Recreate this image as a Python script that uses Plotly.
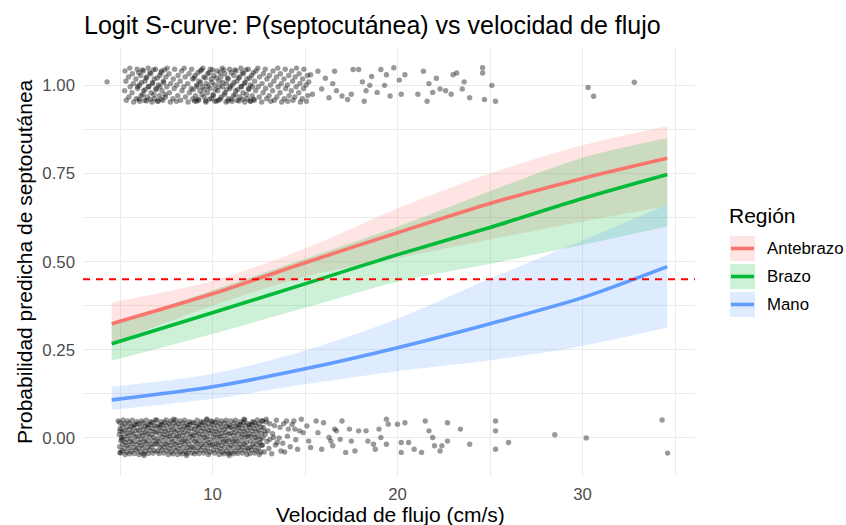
import plotly.graph_objects as go

# ---------------- data ----------------
regions = ["Antebrazo", "Brazo", "Mano"]
region_colors = ["#F8766D", "#00BA38", "#619CFF"]

vel = [4.55, 10, 15, 20, 25, 30, 34.58]

fit_antebrazo = [0.324, 0.409, 0.497, 0.582, 0.665, 0.736, 0.793]
lo_antebrazo = [0.269, 0.375, 0.457, 0.510, 0.563, 0.614, 0.658]
hi_antebrazo = [0.384, 0.445, 0.537, 0.651, 0.750, 0.830, 0.884]

fit_brazo = [0.267, 0.355, 0.437, 0.520, 0.597, 0.679, 0.747]
lo_brazo = [0.219, 0.295, 0.369, 0.443, 0.494, 0.548, 0.600]
hi_brazo = [0.321, 0.419, 0.508, 0.599, 0.700, 0.795, 0.851]

fit_mano = [0.108, 0.145, 0.196, 0.256, 0.324, 0.398, 0.486]
lo_mano = [0.080, 0.111, 0.152, 0.189, 0.220, 0.261, 0.313]
hi_mano = [0.145, 0.182, 0.247, 0.338, 0.452, 0.560, 0.662]

threshold = 0.45

x_ticks = [10, 20, 30]
x_ticktext = ["10", "20", "30"]
x_minor = [5, 15, 25, 35]
y_ticks = [0, 0.25, 0.5, 0.75, 1.0]
y_ticktext = ["0.00", "0.25", "0.50", "0.75", "1.00"]
y_minor = [0.125, 0.375, 0.625, 0.875]

# jittered observations, outcome 0 (dense part)
zero_dense_x = [
    5.03,4.98,5.05,4.96,5.01,4.99,5.11,5.16,5.09,5.14,5.12,5.17,5.28,5.23,5.30,5.21,5.26,5.24,5.36,5.41,5.34,5.39,5.37,5.42,5.53,5.48,5.55,5.46,5.51,5.49,5.61,5.66,5.59,5.64,5.62,5.67,5.78,5.73,5.80,5.71,5.76,5.74,5.86,5.91,5.84,5.89,5.87,5.92,
    6.03,5.98,6.05,5.96,6.01,5.99,6.11,6.16,6.09,6.14,6.12,6.17,6.28,6.23,6.30,6.21,6.26,6.24,6.36,6.41,6.34,6.39,6.37,6.42,6.53,6.48,6.55,6.46,6.51,6.49,6.61,6.66,6.59,6.64,6.62,6.67,6.78,6.73,6.80,6.71,6.76,6.74,6.86,6.91,6.84,6.89,6.87,6.92,
    7.03,6.98,7.05,6.96,7.01,6.99,7.11,7.16,7.09,7.14,7.12,7.17,7.28,7.23,7.30,7.21,7.26,7.24,7.36,7.41,7.34,7.39,7.37,7.42,7.53,7.48,7.55,7.46,7.51,7.49,7.61,7.66,7.59,7.64,7.62,7.67,7.78,7.73,7.80,7.71,7.76,7.74,7.86,7.91,7.84,7.89,7.87,7.92,
    8.03,7.98,8.05,7.96,8.01,7.99,8.11,8.16,8.09,8.14,8.12,8.17,8.28,8.23,8.30,8.21,8.26,8.24,8.36,8.41,8.34,8.39,8.37,8.42,8.53,8.48,8.55,8.46,8.51,8.49,8.61,8.66,8.59,8.64,8.62,8.67,8.78,8.73,8.80,8.71,8.76,8.74,8.86,8.91,8.84,8.89,8.87,8.92,
    9.03,8.98,9.05,8.96,9.01,8.99,9.11,9.16,9.09,9.14,9.12,9.17,9.28,9.23,9.30,9.21,9.26,9.24,9.36,9.41,9.34,9.39,9.37,9.42,9.53,9.48,9.55,9.46,9.51,9.49,9.61,9.66,9.59,9.64,9.62,9.67,9.78,9.73,9.80,9.71,9.76,9.74,9.86,9.91,9.84,9.89,9.87,9.92,
    10.03,9.98,10.05,9.96,10.01,9.99,10.11,10.16,10.09,10.14,10.12,10.17,10.28,10.23,10.30,10.21,10.26,10.24,10.36,10.41,10.34,10.39,10.37,10.42,10.53,10.48,10.55,10.46,10.51,10.49,10.61,10.66,10.59,10.64,10.62,10.67,10.78,10.73,10.80,10.71,10.76,10.74,10.86,10.91,10.84,10.89,10.87,10.92,
    11.03,10.98,11.05,10.96,11.01,10.99,11.11,11.16,11.09,11.14,11.12,11.17,11.28,11.23,11.30,11.21,11.26,11.24,11.36,11.41,11.34,11.39,11.37,11.42,11.53,11.48,11.55,11.46,11.51,11.49,11.61,11.66,11.59,11.64,11.62,11.67,11.78,11.73,11.80,11.71,11.76,11.74,11.86,11.91,11.84,11.89,11.87,11.92,
    12.03,11.98,12.05,11.96,12.01,11.99,12.11,12.16,12.09,12.14,12.12,12.17,12.28,12.23,12.30,12.21,12.26,12.24,12.36,12.41,12.34,12.39,12.37,12.42,12.53,12.48,12.55,12.46,12.51,12.49,12.61,12.66,12.59,12.64,12.62,12.67,
]
zero_dense_y = [
    -0.043,-0.025,-0.008,0.010,0.027,0.044, -0.036,-0.018,0.001,0.018,0.035,0.051, -0.047,-0.030,-0.013,0.005,0.022,0.040, -0.040,-0.021,-0.004,0.013,0.031,0.048, -0.045,-0.028,-0.011,0.007,0.024,0.042, -0.038,-0.016,-0.002,0.016,0.033,0.050, -0.044,-0.027,-0.009,0.011,0.029,0.037, -0.034,-0.019,0.003,0.020,0.038,0.046,
    -0.047,-0.030,-0.013,0.005,0.022,0.040, -0.040,-0.021,-0.004,0.013,0.031,0.048, -0.045,-0.028,-0.011,0.007,0.024,0.042, -0.038,-0.016,-0.002,0.016,0.033,0.050, -0.044,-0.027,-0.009,0.011,0.029,0.037, -0.034,-0.019,0.003,0.020,0.038,0.046, -0.043,-0.025,-0.008,0.010,0.027,0.044, -0.036,-0.018,0.001,0.018,0.035,0.051,
    -0.038,-0.016,-0.002,0.016,0.033,0.050, -0.044,-0.027,-0.009,0.011,0.029,0.037, -0.034,-0.019,0.003,0.020,0.038,0.046, -0.043,-0.025,-0.008,0.010,0.027,0.044, -0.036,-0.018,0.001,0.018,0.035,0.051, -0.047,-0.030,-0.013,0.005,0.022,0.040, -0.040,-0.021,-0.004,0.013,0.031,0.048, -0.045,-0.028,-0.011,0.007,0.024,0.042,
    -0.036,-0.018,0.001,0.018,0.035,0.051, -0.047,-0.030,-0.013,0.005,0.022,0.040, -0.040,-0.021,-0.004,0.013,0.031,0.048, -0.045,-0.028,-0.011,0.007,0.024,0.042, -0.038,-0.016,-0.002,0.016,0.033,0.050, -0.044,-0.027,-0.009,0.011,0.029,0.037, -0.034,-0.019,0.003,0.020,0.038,0.046, -0.043,-0.025,-0.008,0.010,0.027,0.044,
    -0.045,-0.028,-0.011,0.007,0.024,0.042, -0.038,-0.016,-0.002,0.016,0.033,0.050, -0.044,-0.027,-0.009,0.011,0.029,0.037, -0.034,-0.019,0.003,0.020,0.038,0.046, -0.043,-0.025,-0.008,0.010,0.027,0.044, -0.036,-0.018,0.001,0.018,0.035,0.051, -0.047,-0.030,-0.013,0.005,0.022,0.040, -0.040,-0.021,-0.004,0.013,0.031,0.048,
    -0.034,-0.019,0.003,0.020,0.038,0.046, -0.043,-0.025,-0.008,0.010,0.027,0.044, -0.036,-0.018,0.001,0.018,0.035,0.051, -0.047,-0.030,-0.013,0.005,0.022,0.040, -0.040,-0.021,-0.004,0.013,0.031,0.048, -0.045,-0.028,-0.011,0.007,0.024,0.042, -0.038,-0.016,-0.002,0.016,0.033,0.050, -0.044,-0.027,-0.009,0.011,0.029,0.037,
    -0.040,-0.021,-0.004,0.013,0.031,0.048, -0.045,-0.028,-0.011,0.007,0.024,0.042, -0.038,-0.016,-0.002,0.016,0.033,0.050, -0.044,-0.027,-0.009,0.011,0.029,0.037, -0.034,-0.019,0.003,0.020,0.038,0.046, -0.043,-0.025,-0.008,0.010,0.027,0.044, -0.036,-0.018,0.001,0.018,0.035,0.051, -0.047,-0.030,-0.013,0.005,0.022,0.040,
    -0.044,-0.027,-0.009,0.011,0.029,0.037, -0.034,-0.019,0.003,0.020,0.038,0.046, -0.043,-0.025,-0.008,0.010,0.027,0.044, -0.036,-0.018,0.001,0.018,0.035,0.051, -0.047,-0.030,-0.013,0.005,0.022,0.040, -0.040,-0.021,-0.004,0.013,0.031,0.048,
]

# outcome 0, sparse part (x, y)
zero_sparse = [
    (4.9, 0.048), (5.0, 0.020), (5.1, -0.004), (5.0, -0.041),
    (6.3, -0.05), (7.9, 0.053), (8.6, -0.05), (9.7, 0.054), (10.9, -0.05), (11.7, 0.053),
    (12.7, -0.02), (12.75, 0.03), (12.8, -0.04), (12.85, 0.01), (12.9, 0.045), (12.95, -0.01),
    (13.0, 0.02), (13.05, -0.03), (13.1, 0.04), (13.2, -0.045), (13.25, 0.012), (13.35, 0.035),
    (13.4, -0.02), (13.45, 0.05), (13.6, 0.0), (13.65, 0.03), (13.8, -0.015), (13.85, 0.04),
    (13.9, -0.04), (14.05, 0.005), (14.2, -0.025), (14.3, 0.038), (14.5, -0.005), (14.7, 0.02),
    (12.72, 0.0), (12.82, 0.02),
    (12.7, 0.048), (12.9, 0.053), (13.1, -0.004), (13.3, 0.001), (13.5, -0.013), (13.7, -0.037),
    (14.0, 0.048), (14.1, 0.025), (14.4, 0.048), (14.45, 0.025), (14.6, -0.032), (14.8, 0.053),
    (14.9, 0.015), (15.1, 0.034), (15.2, -0.009), (15.3, -0.027), (15.6, 0.048), (15.7, 0.015),
    (15.9, -0.032), (16.0, 0.043), (16.3, 0.001), (16.4, -0.009), (16.5, -0.022), (16.6, 0.025),
    (16.7, 0.020), (16.9, -0.004), (17.0, 0.048), (17.2, -0.041), (17.4, 0.025), (17.5, -0.009),
    (17.7, -0.037), (17.9, 0.020), (18.3, 0.020), (18.4, -0.009), (18.7, -0.018), (18.8, -0.032),
    (19.0, 0.025), (19.1, 0.001), (19.4, 0.053), (19.5, 0.039), (19.4, -0.018), (20.0, 0.039),
    (20.2, -0.041), (20.2, -0.013), (20.4, 0.043), (20.6, -0.013), (20.9, -0.032), (21.3, -0.041),
    (21.5, 0.048), (21.7, 0.020), (21.9, 0.001), (22.0, -0.022), (22.3, -0.037), (22.4, -0.022),
    (22.7, -0.009), (22.7, 0.043), (23.4, 0.025), (23.9, -0.018), (25.3, 0.048), (25.3, 0.020),
    (25.3, -0.032), (26.0, -0.013), (28.5, 0.009), (30.2, 0.0), (34.3, 0.051), (34.6, -0.043),
]

# jittered observations, outcome 1 (dense part)
one_dense_x = [
    5.34,5.25,5.32,5.27, 5.48,5.55,5.46,5.53, 5.74,5.65,5.72,5.67, 5.88,5.95,5.86,5.93, 6.14,6.05,6.12,6.07,
    6.28,6.35,6.26,6.33, 6.54,6.45,6.52,6.47, 6.68,6.75,6.66,6.73, 6.94,6.85,6.92,6.87, 7.08,7.15,7.06,7.13,
    7.34,7.25,7.32,7.27, 7.48,7.55,7.46,7.53, 7.74,7.65,7.72,7.67, 7.88,7.95,7.86,7.93, 8.14,8.05,8.12,8.07,
    8.28,8.35,8.26,8.33, 8.54,8.45,8.52,8.47, 8.68,8.75,8.66,8.73, 8.94,8.85,8.92,8.87, 9.08,9.15,9.06,9.13,
    9.34,9.25,9.32,9.27, 9.48,9.55,9.46,9.53, 9.74,9.65,9.72,9.67, 9.88,9.95,9.86,9.93, 10.14,10.05,10.12,10.07,
    10.28,10.35,10.26,10.33, 10.54,10.45,10.52,10.47, 10.68,10.75,10.66,10.73, 10.94,10.85,10.92,10.87, 11.08,11.15,11.06,11.13,
    11.34,11.25,11.32,11.27, 11.48,11.55,11.46,11.53, 11.74,11.65,11.72,11.67, 11.88,11.95,11.86,11.93, 12.14,12.05,12.12,12.07,
    12.28,12.35,12.26,12.33, 12.54,12.45,12.52,12.47, 12.68,12.75,12.66,12.73, 12.94,12.85,12.92,12.87, 13.08,13.15,13.06,13.13,
    13.34,13.25,13.32,13.27, 13.48,13.55,13.46,13.53, 13.74,13.65,13.72,13.67, 13.88,13.95,13.86,13.93, 14.14,14.05,14.12,14.07,
    14.28,14.35,14.26,14.33, 14.54,14.45,14.52,14.47, 14.68,14.75,14.66,14.73, 14.94,14.85,14.92,14.87, 15.08,15.15,15.06,15.13,
]
one_dense_y = [
    0.958,0.985,1.012,1.041, 0.967,0.996,1.024,1.049, 0.953,0.979,1.005,1.033, 0.962,0.991,1.018,1.046, 0.971,1.001,1.028,0.955,
    0.985,1.012,1.041,0.958, 0.996,1.024,1.049,0.967, 0.979,1.005,1.033,0.953, 0.991,1.018,1.046,0.962, 1.001,1.028,0.955,0.971,
    1.012,1.041,0.958,0.985, 1.024,1.049,0.967,0.996, 1.005,1.033,0.953,0.979, 1.018,1.046,0.962,0.991, 1.028,0.955,0.971,1.001,
    0.958,0.985,1.012,1.041, 0.967,0.996,1.024,1.049, 0.953,0.979,1.005,1.033, 0.962,0.991,1.018,1.046, 0.971,1.001,1.028,0.955,
    1.041,0.958,0.985,1.012, 1.049,0.967,0.996,1.024, 1.033,0.953,0.979,1.005, 1.046,0.962,0.991,1.018, 0.955,0.971,1.001,1.028,
    0.985,1.012,1.041,0.958, 0.996,1.024,1.049,0.967, 0.979,1.005,1.033,0.953, 0.991,1.018,1.046,0.962, 1.001,1.028,0.955,0.971,
    0.958,0.985,1.012,1.041, 0.967,0.996,1.024,1.049, 0.953,0.979,1.005,1.033, 0.962,0.991,1.018,1.046, 0.971,1.001,1.028,0.955,
    1.012,1.041,0.958,0.985, 1.024,1.049,0.967,0.996, 1.005,1.033,0.953,0.979, 1.018,1.046,0.962,0.991, 1.028,0.955,0.971,1.001,
    0.958,0.985,1.012,1.041, 0.967,0.996,1.024,1.049, 0.953,0.979,1.005,1.033, 0.962,0.991,1.018,1.046, 0.971,1.001,1.028,0.955,
    1.041,0.958,0.985,1.012, 1.049,0.967,0.996,1.024, 1.033,0.953,0.979,1.005, 1.046,0.962,0.991,1.018, 0.955,0.971,1.001,1.028,
]

# outcome 1, denser clumps and sparse tail (x, y)
one_extra = [
    (6.03, 0.961), (5.96, 0.997), (6.01, 1.036), (6.23, 0.974), (6.16, 1.008), (6.21, 1.044),
    (6.43, 0.956), (6.36, 0.988), (6.41, 1.021), (6.63, 0.961), (6.56, 0.997), (6.61, 1.036),
    (6.83, 0.974), (6.76, 1.008), (6.81, 1.044), (7.03, 0.956), (6.96, 0.988), (7.01, 1.021),
    (7.23, 0.961), (7.16, 0.997), (7.21, 1.036), (7.43, 0.974), (7.36, 1.008), (7.41, 1.044),
    (9.03, 0.956), (8.96, 0.988), (9.01, 1.021), (9.23, 0.961), (9.16, 0.997), (9.21, 1.036),
    (9.43, 0.974), (9.36, 1.008), (9.41, 1.044), (9.63, 0.956), (9.56, 0.988), (9.61, 1.021),
    (9.83, 0.961), (9.76, 0.997), (9.81, 1.036), (10.03, 0.974), (9.96, 1.008), (10.01, 1.044),
    (10.23, 0.956), (10.16, 0.988), (10.21, 1.021), (10.43, 0.961), (10.36, 0.997), (10.41, 1.036),
    (10.63, 0.974), (10.56, 1.008), (10.61, 1.044), (10.83, 0.956), (10.76, 0.988), (10.81, 1.021),
    (11.03, 0.961), (10.96, 0.997), (11.01, 1.036), (11.23, 0.974), (11.16, 1.008), (11.21, 1.044),
    (11.43, 0.956), (11.36, 0.988), (11.41, 1.021), (11.63, 0.961), (11.56, 0.997), (11.61, 1.036),
    (11.83, 0.974), (11.76, 1.008), (11.81, 1.044), (12.03, 0.956), (11.96, 0.988), (12.01, 1.021),
    (12.23, 0.961), (12.16, 0.997), (12.21, 1.036),
]
one_sparse = [
    (4.3, 1.01), (15.2, 1.01), (15.4, 0.975), (15.3, 1.03), (15.7, 1.04), (15.9, 0.99), (16.1, 1.02),
    (16.3, 0.965), (16.5, 1.005), (16.7, 0.985), (16.6, 1.04), (17.0, 0.97), (17.3, 0.96),
    (17.5, 0.975), (17.6, 1.045), (17.9, 1.045), (18.1, 1.01), (18.3, 0.985), (18.2, 0.955),
    (18.5, 1.0), (18.6, 1.025), (18.9, 0.98), (19.1, 1.045), (19.3, 1.0), (19.4, 1.03),
    (19.6, 0.97), (19.8, 1.05), (20.1, 1.015), (20.2, 0.975), (20.4, 1.03), (21.1, 0.975),
    (21.4, 1.04), (21.6, 0.955), (21.7, 1.005), (21.9, 0.98), (22.1, 1.02), (22.3, 0.99),
    (22.6, 0.985), (22.9, 0.975), (23.0, 1.03), (23.2, 1.035), (23.5, 0.99), (23.6, 1.01),
    (23.9, 0.965), (24.6, 1.05), (24.6, 1.035), (24.7, 0.96), (25.1, 1.0), (25.3, 0.955),
    (30.3, 0.994), (30.6, 0.969), (32.8, 1.009),
]

# ---------------- figure ----------------
FONT = "Liberation Sans, Arial, sans-serif"
W, H = 846, 525
PL, PR, PT, PB = 83, 695, 48, 476  # panel box in pixels


def px_x(p):
    return (p - PL) / (PR - PL)


def px_y(p):
    return (PB - p) / (PB - PT)


def rgba(hex_color, a):
    h = hex_color.lstrip("#")
    r, g, b = int(h[0:2], 16), int(h[2:4], 16), int(h[4:6], 16)
    return f"rgba({r},{g},{b},{a})"


fits = [fit_antebrazo, fit_brazo, fit_mano]
los = [lo_antebrazo, lo_brazo, lo_mano]
his = [hi_antebrazo, hi_brazo, hi_mano]

pts_x = (zero_dense_x + [p[0] for p in zero_sparse] + one_dense_x
         + [p[0] for p in one_extra] + [p[0] for p in one_sparse])
pts_y = (zero_dense_y + [p[1] for p in zero_sparse]
         + one_dense_y + [p[1] for p in one_extra] + [p[1] for p in one_sparse])

SMOOTH = dict(shape="spline", smoothing=0.8)

fig = go.Figure()
fig.add_trace(go.Scatter(
    x=pts_x, y=pts_y, mode="markers", showlegend=False, hoverinfo="skip",
    marker=dict(symbol="circle", size=5.4, color="rgba(0,0,0,0.40)", line=dict(width=0)),
))

for name, col, lo, hi in zip(regions, region_colors, los, his):
    fig.add_trace(go.Scatter(
        x=vel, y=lo, mode="lines", line=dict(width=0, **SMOOTH),
        showlegend=False, hoverinfo="skip", name=name,
    ))
    fig.add_trace(go.Scatter(
        x=vel, y=hi, mode="lines", fill="tonexty", fillcolor=rgba(col, 0.2),
        line=dict(width=0, **SMOOTH), showlegend=False, hoverinfo="skip", name=name,
    ))

for name, col, fit in zip(regions, region_colors, fits):
    fig.add_trace(go.Scatter(
        x=vel, y=fit, mode="lines", line=dict(color=col, width=3.6, **SMOOTH),
        showlegend=False, name=name,
    ))

shapes = [dict(type="line", xref="paper", yref="y", x0=0, x1=1, y0=threshold, y1=threshold,
               line=dict(color="#FF0000", width=2, dash="7px,6px"), layer="above")]

annotations = [
    dict(text="Logit S-curve: P(septocutánea) vs velocidad de flujo", xref="paper", yref="paper",
         x=px_x(82), y=px_y(25), xanchor="left", yanchor="middle", showarrow=False,
         font=dict(family=FONT, size=25, color="#000000")),
    dict(text="Velocidad de flujo (cm/s)", xref="paper", yref="paper",
         x=px_x(390), y=px_y(514), xanchor="center", yanchor="middle", showarrow=False,
         font=dict(family=FONT, size=21, color="#000000")),
    dict(text="Probabilidad predicha de septocutánea", xref="paper", yref="paper",
         x=px_x(24), y=px_y(262), xanchor="center", yanchor="middle", showarrow=False,
         textangle=-90, font=dict(family=FONT, size=21, color="#000000")),
    dict(text="Región", xref="paper", yref="paper", x=px_x(727), y=px_y(215),
         xanchor="left", yanchor="middle", showarrow=False,
         font=dict(family=FONT, size=21, color="#000000")),
]

key_top = [236, 264, 292]
for name, col, top in zip(regions, region_colors, key_top):
    shapes.append(dict(type="rect", xref="paper", yref="paper",
                       x0=px_x(730), x1=px_x(755), y0=px_y(top + 25), y1=px_y(top),
                       fillcolor=rgba(col, 0.2), line=dict(width=0), layer="above"))
    shapes.append(dict(type="line", xref="paper", yref="paper",
                       x0=px_x(731), x1=px_x(754), y0=px_y(top + 12.5), y1=px_y(top + 12.5),
                       line=dict(color=col, width=3.6), layer="above"))
    annotations.append(dict(text=name, xref="paper", yref="paper", x=px_x(765),
                            y=px_y(top + 12.5), xanchor="left", yanchor="middle",
                            showarrow=False, font=dict(family=FONT, size=16.8, color="#000000")))

grid = "#EBEBEB"
fig.update_layout(
    width=W, height=H,
    margin=dict(l=PL, r=W - PR, t=PT, b=H - PB, pad=0),
    paper_bgcolor="white", plot_bgcolor="white",
    font=dict(family=FONT),
    showlegend=False,
    shapes=shapes, annotations=annotations,
    xaxis=dict(range=[3.0, 36.08], tickmode="array", tickvals=x_ticks, ticktext=x_ticktext,
               showgrid=True, gridcolor=grid, gridwidth=1.1, zeroline=False, showline=False,
               ticks="", tickfont=dict(family=FONT, size=16.8, color="#4D4D4D"),
               ticklabelstandoff=6,
               minor=dict(tickvals=x_minor, showgrid=True, gridcolor=grid, gridwidth=0.55)),
    yaxis=dict(range=[-0.108, 1.106], tickmode="array", tickvals=y_ticks, ticktext=y_ticktext,
               showgrid=True, gridcolor=grid, gridwidth=1.1, zeroline=False, showline=False,
               ticks="", tickfont=dict(family=FONT, size=16.8, color="#4D4D4D"),
               ticklabelstandoff=7,
               minor=dict(tickvals=y_minor, showgrid=True, gridcolor=grid, gridwidth=0.55)),
)

fig.write_html("out.html")
